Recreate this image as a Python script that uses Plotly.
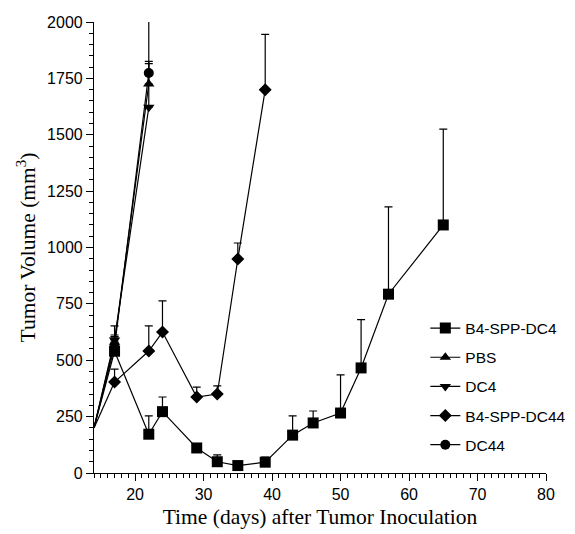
import plotly.graph_objects as go

# Data (days, tumor volume mm^3, upper error bar end)
days_b4dc4 = [14, 17, 22, 24, 29, 32, 35, 39, 43, 46, 50, 53, 57, 65]
vol_b4dc4 = [200, 540, 172, 272, 111, 50, 33, 48, 168, 222, 266, 466, 793, 1100]
up_b4dc4 = [None, 605, 253, 337, None, 80, None, 70, 253, 275, 435, 680, 1180, 1525]

days_pbs = [14, 17, 22]
vol_pbs = [200, 580, 1725]
up_pbs = [None, 612, 1825]

days_dc4 = [14, 17, 22]
vol_dc4 = [200, 590, 1622]
up_dc4 = [None, 652, 1815]

days_b4dc44 = [14, 17, 22, 24, 29, 32, 35, 39]
vol_b4dc44 = [200, 403, 541, 625, 337, 350, 949, 1700]
up_b4dc44 = [None, 461, 652, 763, 381, 386, 1020, 1945]

days_dc44 = [14, 17, 22]
vol_dc44 = [200, 560, 1774]
up_dc44 = [None, 603, 2060]

series = [
    ("B4-SPP-DC4", days_b4dc4, vol_b4dc4, up_b4dc4, "square", 11),
    ("PBS", days_pbs, vol_pbs, up_pbs, "triangle-up", 10),
    ("DC4", days_dc4, vol_dc4, up_dc4, "triangle-down", 10),
    ("B4-SPP-DC44", days_b4dc44, vol_b4dc44, up_b4dc44, "diamond", 10),
    ("DC44", days_dc44, vol_dc44, up_dc44, "circle", 10),
]

LW = 1.2
fig = go.Figure()
for i, (name, xs, ys, ups, sym, sz) in enumerate(series):
    # starting segment (day 14 baseline has no marker)
    fig.add_trace(go.Scatter(
        x=xs[:2], y=ys[:2], mode="lines", showlegend=False, hoverinfo="skip",
        line=dict(color="black", width=LW), legendgroup=name,
    ))
    err = [None if u is None else u - v for u, v in zip(ups[1:], ys[1:])]
    fig.add_trace(go.Scatter(
        x=xs[1:], y=ys[1:], name=name, mode="lines+markers",
        line=dict(color="black", width=LW),
        marker=dict(symbol=sym, size=sz, color="black", opacity=1, line=dict(width=0)),
        error_y=dict(type="data", symmetric=False, array=err,
                     arrayminus=[0] * len(err), color="black",
                     thickness=1.2, width=4),
        legendgroup=name, legendrank=i + 1,
    ))

serif = "Liberation Serif, Times New Roman, serif"
# page body has an 8px default margin, so the figure is sized to fit the window
fig.update_layout(
    width=567, height=526,
    margin=dict(l=86, r=29, t=14, b=61, autoexpand=False),
    paper_bgcolor="white", plot_bgcolor="white",
    font=dict(family="Liberation Sans, Arial, sans-serif", size=16, color="black"),
    showlegend=True,
    legend=dict(x=0.733, y=0.358, xanchor="left", yanchor="top",
                font=dict(size=15.5), traceorder="grouped", tracegroupgap=6,
                bgcolor="rgba(0,0,0,0)"),
)
fig.update_xaxes(
    automargin=False,
    range=[14, 80], tickmode="array", tickvals=[20, 30, 40, 50, 60, 70, 80],
    showgrid=False, zeroline=False, showline=True, linecolor="black", linewidth=1.2,
    ticks="outside", ticklen=7, tickwidth=1.2, tickcolor="black",
    minor=dict(ticks="outside", ticklen=4, tickwidth=1, tickcolor="black", dtick=1, tick0=0, showgrid=False),
    title=dict(text="Time (days) after Tumor Inoculation", font=dict(family=serif, size=21.5),
               standoff=6),
)
fig.update_yaxes(
    automargin=False,
    range=[0, 2000], tickmode="array", tickvals=[0, 250, 500, 750, 1000, 1250, 1500, 1750, 2000],
    showgrid=False, zeroline=False, showline=True, linecolor="black", linewidth=1.2,
    ticks="outside", ticklen=7, tickwidth=1.2, tickcolor="black",
    minor=dict(ticks="outside", ticklen=4, tickwidth=1, tickcolor="black", dtick=50, tick0=0, showgrid=False),
    title=dict(text="Tumor Volume (mm<sup>3</sup>)", font=dict(family=serif, size=21.5),
               standoff=5),
)

fig.write_html("out.html")
